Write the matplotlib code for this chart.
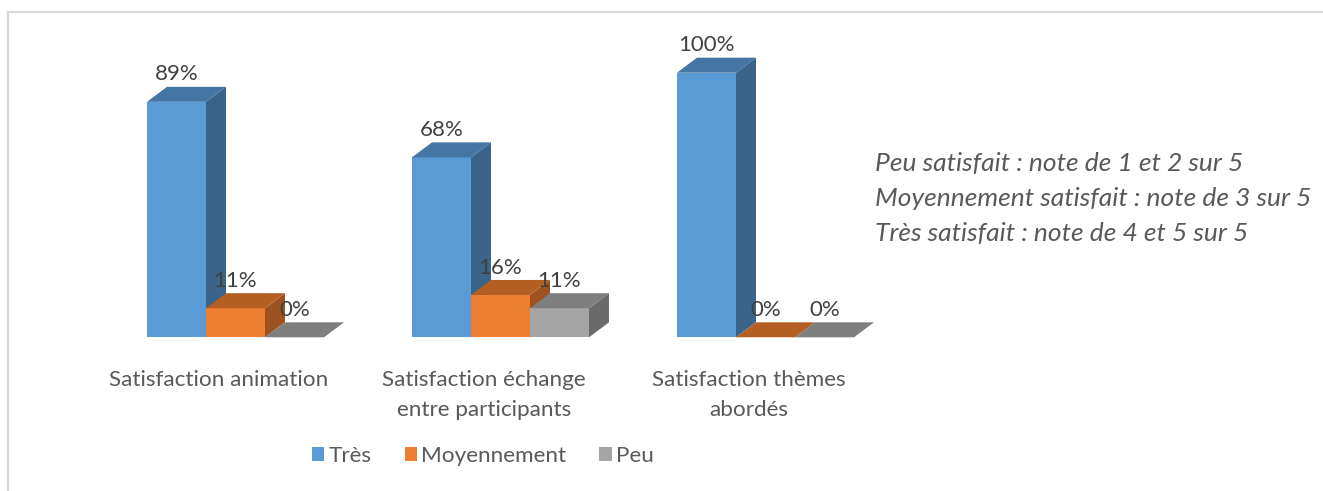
import matplotlib
matplotlib.use("Agg")
import matplotlib.pyplot as plt
from matplotlib.patches import Polygon, Patch, Rectangle

# ---- data ----
categories = ["Satisfaction animation",
              "Satisfaction échange\nentre participants",
              "Satisfaction thèmes\nabordés"]
series_names = ["Très", "Moyennement", "Peu"]
tres = [89, 68, 100]
moyennement = [11, 16, 0]
peu = [0, 11, 0]
note_lines = ["Peu satisfait : note de 1 et 2 sur 5",
              "Moyennement satisfait : note de 3 sur 5",
              "Très satisfait : note de 4 et 5 sur 5"]

# ---- style ----
front_colors = ["#5B9BD5", "#ED7D31", "#A5A5A5"]
top_colors = ["#4575A2", "#B55E22", "#7F7F7F"]
side_colors = ["#3A6489", "#9E5220", "#6A6A6A"]
FONT = ["Lato", "DejaVu Sans"]

W, H = 1323, 491
fig = plt.figure(figsize=(W / 100, H / 100), dpi=100)
fig.patch.set_facecolor("white")

# border lines (top and left)
fig.add_artist(plt.Line2D([7.5 / W, 1], [1 - 11.5 / H, 1 - 11.5 / H], color="#D9D9D9", lw=1.6))
fig.add_artist(plt.Line2D([7.5 / W, 7.5 / W], [0, 1 - 11.5 / H], color="#D9D9D9", lw=1.6))

px_per_unit = 265.0
center0_px = 147 + 88.5
left_px, right_px = 100, 870
ax = fig.add_axes([left_px / W, (H - 337.3) / H, (right_px - left_px) / W, 264.6 / H])
ax.set_xlim((left_px - center0_px) / px_per_unit, (right_px - center0_px) / px_per_unit)
ax.set_ylim(0, 100)
ax.axis("off")

bw = 59 / px_per_unit
ddx = 20 / px_per_unit
ddy = 15 / 264.6 * 100

series = [tres, moyennement, peu]
for i in range(len(categories)):
    for j, vals in enumerate(series):
        v = vals[i]
        x0 = i - 1.5 * bw + j * bw
        x1 = x0 + bw
        if v > 0:
            ax.add_patch(Rectangle((x0, 0), bw, v, facecolor=front_colors[j], edgecolor="none",
                                   zorder=3 + j, clip_on=False))
            ax.add_patch(Polygon([(x1, 0), (x1 + ddx, ddy), (x1 + ddx, v + ddy), (x1, v)],
                                 closed=True, facecolor=side_colors[j], edgecolor="none",
                                 zorder=3 + j, clip_on=False))
        ax.add_patch(Polygon([(x0, v), (x1, v), (x1 + ddx, v + ddy), (x0 + ddx, v + ddy)],
                             closed=True, facecolor=top_colors[j], edgecolor="none",
                             zorder=3 + j, clip_on=False))
        ax.text(x0 + bw / 2, v + ddy + 0.9, f"{v}%", ha="center", va="bottom",
                fontsize=16, color="#404040", family=FONT, zorder=10, clip_on=False)

# category labels
for i, c in enumerate(categories):
    ax.text(i - 0.062, -12.3, c, ha="center", va="top", fontsize=16.2, color="#595959",
            family=FONT, linespacing=1.65, clip_on=False)

# notes
for k, line in enumerate(note_lines):
    fig.text(875 / W, 1 - (163 + 35.5 * k) / H, line, ha="left", va="center",
             fontsize=19, style="italic", color="#595959", family=FONT)

handles = [Patch(facecolor=front_colors[j], edgecolor="none") for j in range(3)]
fig.legend(handles, series_names, loc="center", bbox_to_anchor=(483 / W, 1 - 456 / H),
           ncol=3, frameon=False, handlelength=0.55, handleheight=0.55,
           handletextpad=0.2, columnspacing=1.45, labelcolor="#595959",
           prop={"family": FONT, "size": 16.2})

fig.savefig("out.png", dpi=100, facecolor="white")
